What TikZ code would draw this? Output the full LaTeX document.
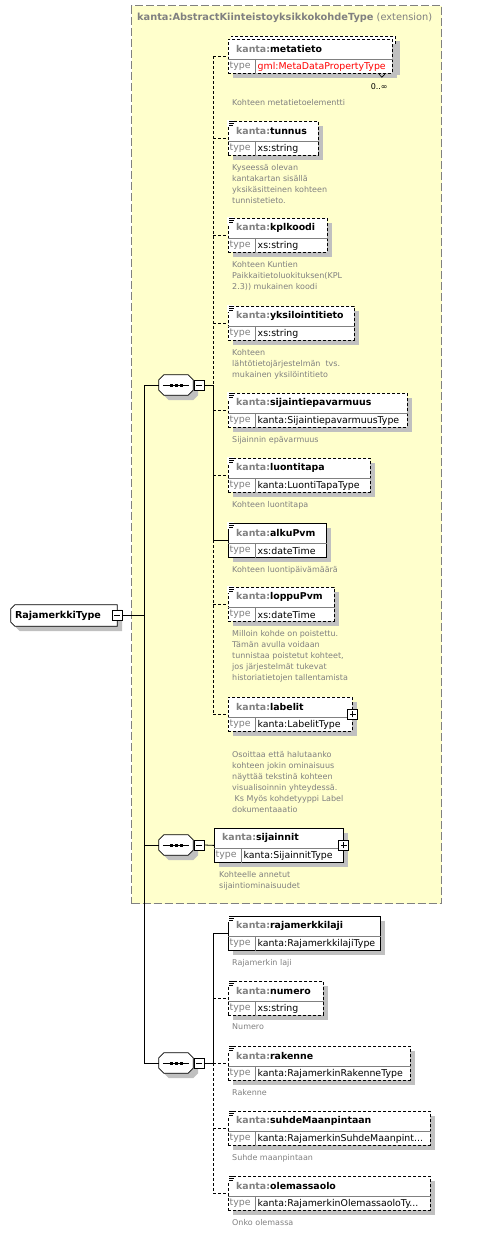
\documentclass[tikz,border=0pt]{standalone}
\usepackage{fontspec}
\setmainfont{DejaVu Sans}
\usepackage{tikz}
\usetikzlibrary{positioning, shadows}
\definecolor{extfill}{RGB}{255,255,204}
\definecolor{frame}{RGB}{128,128,128}
\definecolor{shadowgray}{RGB}{192,192,192}
\definecolor{typered}{RGB}{255,0,0}

% element box: id, position, width, name, type, border
\newcommand{\xelem}[6]{%
  \node[elbox, #6, minimum width=#3pt] (#1) at #2 {};
  \draw[sepline] ([yshift=-20pt]#1.north west) -- ([yshift=-20pt]#1.north east)
    ([shift={(27pt,-20pt)}]#1.north west) -- ([xshift=27pt]#1.south west);
  \node[elname] (#1n) at ([shift={(8pt,-10pt)}]#1.north west) {\textcolor{frame}{kanta:}#4};
  \node[typelbl] (#1t) at ([shift={(1.5pt,-27.5pt)}]#1.north west) {type};
  \node[typeval] (#1v) at ([shift={(29.5pt,-27.5pt)}]#1.north west) {#5};
}
% simple content mark
\newcommand{\simpicon}[1]{%
  \fill[white] ([shift={(-0.6pt,0.6pt)}]#1.north west) rectangle ++(7pt,-6.5pt);
  \draw[line width=0.7pt] ([shift={(1pt,-0.5pt)}]#1.north west) -- ++(5pt,0pt)
    ([shift={(1pt,-2.5pt)}]#1.north west) -- ++(5pt,0pt)
    ([shift={(1pt,-4.5pt)}]#1.north west) -- ++(4pt,0pt);
}
% sequence compositor outline
\newcommand{\seqshape}[1]{%
  \draw[shapedraw] ([xshift=5pt]#1.north west) -- ([xshift=-5pt]#1.north east) -- ([yshift=-5pt]#1.north east)
    -- ([yshift=5pt]#1.south east) -- ([xshift=-5pt]#1.south east) -- ([xshift=5pt]#1.south west)
    -- ([yshift=5pt]#1.south west) -- ([yshift=-5pt]#1.north west) -- cycle;
  \draw[line width=0.8pt] ([xshift=4pt]#1.west) -- ([xshift=-4pt]#1.east);
  \foreach \d in {-5,0,5} \fill ([xshift=\d pt]#1.center) +(-1.5pt,-1.5pt) rectangle +(1.5pt,1.5pt);
}

\begin{document}
\begin{tikzpicture}[
    x=1pt, y=-1pt,
    extbox/.style={draw=frame, fill=extfill, line width=1.2pt, dash pattern=on 8pt off 3pt, anchor=north west, inner sep=0pt},
    elbox/.style={draw, fill=white, line width=0.8pt, anchor=north west, inner sep=0pt, minimum height=34pt, drop shadow={shadow xshift=5pt, shadow yshift=-5pt, fill=shadowgray, opacity=1}},
    shapedraw/.style={draw, fill=white, line width=0.8pt, drop shadow={shadow xshift=5pt, shadow yshift=-5pt, fill=shadowgray, opacity=1}},
    holder/.style={inner sep=0pt, minimum width=#1pt, minimum height=20pt},
    optline/.style={dash pattern=on 3pt off 2pt},
    sepline/.style={draw=frame, line width=0.7pt, solid},
    elname/.style={anchor=west, inner sep=0pt, font=\fontsize{9.4}{11}\selectfont\bfseries},
    typelbl/.style={anchor=west, inner sep=0pt, text=frame, font=\fontsize{9.4}{11}\selectfont},
    typeval/.style={anchor=west, inner sep=0pt, font=\fontsize{9.4}{11}\selectfont},
    desc/.style={inner sep=0pt, align=left, text=frame, font=\fontsize{8}{11}\selectfont},
    link/.style={line width=0.8pt},
    tbox/.style={draw, fill=white, line width=0.8pt, minimum size=10pt, inner sep=0pt},
    togminus/.style={tbox, path picture={\draw[line width=0.8pt] ([xshift=2pt]path picture bounding box.west) -- ([xshift=-2pt]path picture bounding box.east);}},
    togplus/.style={tbox, path picture={\draw[line width=0.8pt] ([xshift=2pt]path picture bounding box.west) -- ([xshift=-2pt]path picture bounding box.east) ([yshift=2pt]path picture bounding box.south) -- ([yshift=-2pt]path picture bounding box.north);}}
]
    \useasboundingbox (0,0) rectangle (483,1233);

    % extension frame
    \node[extbox, minimum width=310pt, minimum height=898pt] (ext) at (131,5) {};
    \node[anchor=west, inner sep=0pt, text=frame, font=\fontsize{9.8}{11}\selectfont] (exttitle) at ([shift={(6pt,-13pt)}]ext.north west) {\textbf{kanta:AbstractKiinteistoyksikkokohdeType} (extension)};

    % root
    \node[holder=106, minimum height=21pt] (root) at (64,615.5) {};
    \draw[shapedraw] ([xshift=4pt]root.north west) -- (root.north east) -- (root.south east) -- ([xshift=4pt]root.south west)
        -- ([yshift=4pt]root.south west) -- ([yshift=-4pt]root.north west) -- cycle;
    \node[anchor=west, inner sep=0pt, font=\fontsize{9.6}{11}\selectfont\bfseries] (rootlbl) at ([xshift=4pt]root.west) {RajamerkkiType};
    \node[togminus] (rootm) at (root.east) {};
    \coordinate (trunk) at (144,615.5);

    % compositors
    \node[holder=34] (seqA) at (176,385) {};
    \node[holder=34] (seqB) at (176,845) {};
    \node[holder=34] (seqC) at (176,1063) {};
    \foreach \s in {seqA, seqB, seqC} {\seqshape{\s}}
    \node[togminus] (seqAm) at (199,385) {};
    \node[togminus] (seqBm) at (199,845) {};
    \node[togminus] (seqCm) at (199,1063) {};
    \coordinate (busA) at (213,385);
    \coordinate (busC) at (213,1063);

    % first sequence
    \node[elbox, optline, minimum width=164pt] (metaback) at (231,36) {};
    \xelem{metatieto}{(228,39)}{164}{metatieto}{\textcolor{typered}{gml:MetaDataPropertyType}}{optline}
    \node[inner sep=0pt, font=\fontsize{8}{10}\selectfont, below left=10pt and 5pt of metatieto.south east] (metamult) {0..∞};
    \draw[line width=0.6pt] ([xshift=-14pt]metatieto.south east) -- ++(3pt,-3.5pt) -- ++(3pt,3pt);
    \xelem{tunnus}{(228,121)}{90}{tunnus}{xs:string}{optline}
    \xelem{kplkoodi}{(228,218)}{99}{kplkoodi}{xs:string}{optline}
    \xelem{yksilointi}{(228,306)}{126}{yksilointitieto}{xs:string}{optline}
    \xelem{epavarmuus}{(228,393)}{179}{sijaintiepavarmuus}{kanta:SijaintiepavarmuusType}{optline}
    \xelem{luontitapa}{(228,458)}{142}{luontitapa}{kanta:LuontiTapaType}{optline}
    \xelem{alkuPvm}{(228,523)}{98}{alkuPvm}{xs:dateTime}{solid}
    \xelem{loppuPvm}{(228,587)}{106}{loppuPvm}{xs:dateTime}{optline}
    \xelem{labelit}{(228,697)}{124}{labelit}{kanta:LabelitType}{optline}
    \node[togplus] (labelitp) at (labelit.east) {};
    \foreach \e in {tunnus, kplkoodi, yksilointi, epavarmuus, luontitapa, alkuPvm, loppuPvm} {\simpicon{\e}}

    \node[desc, below right=25pt and 4pt of metatieto.south west] (metatietod) {Kohteen metatietoelementti};
    \node[desc, below right=8pt and 4pt of tunnus.south west] (tunnusd) {Kyseessä olevan\\kantakartan sisällä\\yksikäsitteinen kohteen\\tunnistetieto.};
    \node[desc, below right=8pt and 4pt of kplkoodi.south west] (kplkoodid) {Kohteen Kuntien\\Paikkaitietoluokituksen(KPL\\2.3)) mukainen koodi};
    \node[desc, below right=8pt and 4pt of yksilointi.south west] (yksilointid) {Kohteen\\lähtötietojärjestelmän\ \ tvs.\\mukainen yksilöintitieto};
    \node[desc, below right=8pt and 4pt of epavarmuus.south west] (epavarmuusd) {Sijainnin epävarmuus};
    \node[desc, below right=8pt and 4pt of luontitapa.south west] (luontitapad) {Kohteen luontitapa};
    \node[desc, below right=8pt and 4pt of alkuPvm.south west] (alkuPvmd) {Kohteen luontipäivämäärä};
    \node[desc, below right=8pt and 4pt of loppuPvm.south west] (loppuPvmd) {Milloin kohde on poistettu.\\Tämän avulla voidaan\\tunnistaa poistetut kohteet,\\jos järjestelmät tukevat\\historiatietojen tallentamista};
    \node[desc, below right=19pt and 4pt of labelit.south west] (labelitd) {Osoittaa että halutaanko\\kohteen jokin ominaisuus\\näyttää tekstinä kohteen\\visualisoinnin yhteydessä.\\\hspace{2.5pt}Ks Myös kohdetyyppi Label\\dokumentaaatio};

    % second sequence
    \xelem{sijainnit}{(214,828)}{129}{sijainnit}{kanta:SijainnitType}{solid}
    \node[togplus] (sijainnitp) at (sijainnit.east) {};
    \node[desc, below right=8pt and 5pt of sijainnit.south west] (sijainnitd) {Kohteelle annetut\\sijaintiominaisuudet};

    % third sequence
    \xelem{laji}{(228,916)}{152}{rajamerkkilaji}{kanta:RajamerkkilajiType}{solid}
    \xelem{numero}{(228,981)}{95}{numero}{xs:string}{optline}
    \xelem{rakenne}{(228,1046)}{182}{rakenne}{kanta:RajamerkinRakenneType}{optline}
    \xelem{suhde}{(228,1111)}{202}{suhdeMaanpintaan}{kanta:RajamerkinSuhdeMaanpint...}{optline}
    \xelem{olemassa}{(228,1176)}{202}{olemassaolo}{kanta:RajamerkinOlemassaoloTy...}{optline}
    \foreach \e in {laji, numero, rakenne, suhde, olemassa} {\simpicon{\e}}
    \node[desc, below right=8pt and 4pt of laji.south west] (lajid) {Rajamerkin laji};
    \node[desc, below right=8pt and 4pt of numero.south west] (numerod) {Numero};
    \node[desc, below right=8pt and 4pt of rakenne.south west] (rakenned) {Rakenne};
    \node[desc, below right=8pt and 4pt of suhde.south west] (suhded) {Suhde maanpintaan};
    \node[desc, below right=8pt and 4pt of olemassa.south west] (olemassad) {Onko olemassa};

    % connectors
    \draw[link] (rootm.east) -- (trunk);
    \draw[link] (seqA.west -| trunk) -- (seqC.west -| trunk);
    \draw[link] (seqA.west -| trunk) -- (seqA.west);
    \draw[link] (seqB.west -| trunk) -- (seqB.west);
    \draw[link] (seqC.west -| trunk) -- (seqC.west);
    \draw[link] (seqAm.east) -- (busA);
    \draw[link] (seqBm.east) -- (sijainnit.west);
    \draw[link] (seqCm.east) -- (busC);

    \draw[link, optline] (metatieto.west -| busA) -- (busA);
    \draw[link] (busA) -- (alkuPvm.west -| busA);
    \draw[link, optline] (alkuPvm.west -| busA) -- (labelit.west -| busA);
    \foreach \e in {metatieto, tunnus, kplkoodi, yksilointi, epavarmuus, luontitapa, loppuPvm, labelit}
        \draw[link, optline] (\e.west -| busA) -- (\e.west);
    \draw[link] (alkuPvm.west -| busA) -- (alkuPvm.west);

    \draw[link] (laji.west -| busC) -- (busC);
    \draw[link, optline] (busC) -- (olemassa.west -| busC);
    \draw[link] (laji.west -| busC) -- (laji.west);
    \foreach \e in {numero, rakenne, suhde, olemassa}
        \draw[link, optline] (\e.west -| busC) -- (\e.west);
\end{tikzpicture}
\end{document}
